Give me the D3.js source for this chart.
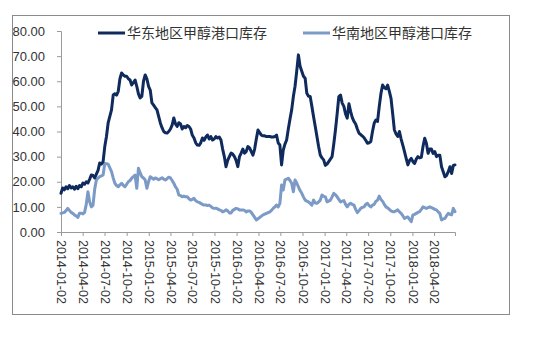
<!DOCTYPE html>
<html>
<head>
<meta charset="utf-8">
<script src="https://cdn.jsdelivr.net/npm/d3@7"></script>
<style>
html,body{margin:0;padding:0;background:#fff;}
svg{display:block;}
</style>
</head>
<body>
<svg id="chart" width="544" height="340"></svg>
<script>
// ---- data ----
const seriesNames = ["华东地区甲醇港口库存", "华南地区甲醇港口库存"];
const firstWeek = "2014-01-02"; // weekly observations starting here
const tickLabels = ["2014-01-02","2014-04-02","2014-07-02","2014-10-02","2015-01-02","2015-04-02","2015-07-02","2015-10-02","2016-01-02","2016-04-02","2016-07-02","2016-10-02","2017-01-02","2017-04-02","2017-07-02","2017-10-02","2018-01-02","2018-04-02"];
const yTicks = [0,10,20,30,40,50,60,70,80];
const eastValues = [15.4,17.5,16.8,18,17.2,18.5,17.5,18,17,18.2,17.2,18.5,18,19.5,19,20,19.5,21,22.7,22.5,
21.5,23,24.5,27.5,27,28,34,38,43.4,46,48.6,54.5,55,54.5,56,61,63.3,62.5,62,62,
61,60.5,58.5,59.5,60.5,58,55,53.4,54,60,62.5,61,58,56.5,51.4,50.5,49.5,48.6,46,43.4,
41.5,40,39.5,39.4,40,41,42.5,45.4,43,42,43.5,43,41,42,41.5,42.4,42,41,38.5,37.4,
35.5,34.6,34.5,35.5,37.4,36.5,37.8,38.6,37,38,36.6,37,38,37.4,37.8,36.6,33,30,26,28.5,
30,31.4,31,30,28.5,26,30,31.4,33,31.4,32,34,33.5,32,30.6,33,37,40.6,39.5,38.6,
38.3,38.3,38,38,38,37.8,37.8,38,38.6,35.4,34.6,26.7,32.6,35,36.6,41,45,48.6,53.9,58,
64,70.5,66,64,62,61.2,55.2,54,53.9,50,45.9,42,38,34,30.6,29.5,28.7,26.5,27,28,
29,30,35,40.6,47,53.9,54.5,51.3,50,47,45.3,51,48,45.5,44,43,41,39.3,38.8,38.2,
37.5,36.5,35.3,35.5,36,40,43.3,44.6,44,49.9,55,58.5,57.5,57,58.5,56,53.2,47,40.6,39,
38,40,37,34.6,32,29.3,26.7,28.5,29.3,28,27.3,29,30,29.5,29.7,34,37.3,35.3,31.3,33,
33,31.3,32,30,30.5,30.5,26,24,22,22.5,24,26,23.3,26.5,26.7];
const southValues = [7.4,7.6,7.8,8.5,9.4,8.6,7.8,7.4,6.8,6.4,5.8,7.5,7.5,7.2,7.8,11,16,12,10,10.6,
17,20.7,21.5,22,22.3,22.7,27.3,27.2,27,25.5,24,21.5,19.4,18.5,18,18.8,19.4,18.6,18,19,
20,20.5,21.4,22,22.7,17.4,25.4,23.5,22,21.5,20.7,17.4,20,22,21.5,21,21.5,21.2,20.8,21.2,
21.6,21,20.7,21.2,21.8,21.5,20.5,19.4,18,17,14.7,14.5,14,14.3,14,14,13.2,12.7,13,13.4,
12.5,12,11.8,11.4,11,10.7,10.8,10.5,10.7,10.2,9.6,9.4,9.5,9.2,8.8,8.6,8,8.3,8.8,8.4,
7.6,7.6,8.6,9,9.4,9.2,8.8,8.8,8.8,8.6,8,8.4,8.4,7.8,6.8,5.8,4.8,5.3,5.8,6.3,
6.8,7.1,7.4,7.7,8,8.6,9.4,10,10.7,10,11.4,18.7,16.7,20.7,21,21.4,20.5,19.4,16,20.7,
19.5,18,16.5,15.4,14,12.7,12.3,12,11.4,10.7,12.7,11.5,11.4,12,12.7,14.7,14.2,14,12,12.3,
12.7,14,15.4,14.8,14,13,12,12.3,12.5,11,10,11,11.4,11,10.7,9,7.7,8.5,9.4,9.8,
10,11,11.4,10.5,10,10.7,11,12.2,12.7,14.3,13,12.2,11,10,9.6,9,8.4,8.1,8.1,8.4,
8.8,8,7.4,6.5,5.4,5.8,6,5,4.1,6.8,7,7.4,7.8,8.1,9,10,9.7,9.4,9.7,10,
9.7,9.4,9,8.8,8,7.4,4.8,5.2,5.4,6.5,7.4,7,6.8,9.4,8.1];
const colors = ["#0f2a5c", "#7b9ac6"];

// ---- build ----
const parse = d3.utcParse("%Y-%m-%d");
const start = parse(firstWeek);
const dates = eastValues.map((_, i) => d3.utcDay.offset(start, 7 * i));

const svg = d3.select("#chart");
const plot = {left: 61, right: 455, top: 31, bottom: 232};

const x = d3.scaleUtc().domain([start, dates[dates.length - 1]]).range([plot.left, plot.right]);
const y = d3.scaleLinear().domain([0, 80]).range([plot.bottom, plot.top]);

// frame
svg.append("rect").attr("x", 12.5).attr("y", 15.5).attr("width", 497).attr("height", 299)
  .attr("fill", "none").attr("stroke", "#8a8a8a").attr("stroke-width", 1);

const fontNum = "'Liberation Sans', Arial, sans-serif";

// y axis
const yAxis = svg.append("g").attr("transform", `translate(${plot.left},0)`)
  .call(d3.axisLeft(y).tickValues(yTicks).tickFormat(d3.format(".2f")).tickSizeOuter(0).tickSize(4).tickPadding(12));
yAxis.select(".domain").attr("stroke", "#9a9a9a");
yAxis.selectAll(".tick line").attr("stroke", "#9a9a9a");
yAxis.selectAll("text").attr("fill", "#333").style("font-family", fontNum).style("font-size", "13px");

// x axis
const xAxis = svg.append("g").attr("transform", `translate(0,${plot.bottom})`)
  .call(d3.axisBottom(x).tickValues(tickLabels.map(parse)).tickFormat(d3.utcFormat("%Y-%m-%d")).tickSizeOuter(0).tickSize(4));
xAxis.select(".domain").attr("stroke", "#9a9a9a");
xAxis.selectAll(".tick line").attr("stroke", "#9a9a9a");
xAxis.selectAll("text")
  .attr("fill", "#333").style("font-family", fontNum).style("font-size", "12.5px")
  .attr("transform", "rotate(90)")
  .attr("text-anchor", "start")
  .attr("x", 8).attr("y", 0).attr("dy", "0.35em");

// lines
const line = d3.line().x((d, i) => x(dates[i])).y(d => y(d)).curve(d3.curveLinear);
[southValues, eastValues].forEach((vals, k) => {
  const ci = k === 0 ? 1 : 0;
  svg.append("path").datum(vals).attr("d", line)
    .attr("fill", "none").attr("stroke", colors[ci]).attr("stroke-width", 3)
    .attr("stroke-linejoin", "round").attr("stroke-linecap", "round");
});

// legend
const legendItems = [{x: 98, color: colors[0], name: seriesNames[0]}, {x: 303, color: colors[1], name: seriesNames[1]}];
const lg = svg.append("g");
legendItems.forEach(it => {
  lg.append("line").attr("x1", it.x).attr("x2", it.x + 27).attr("y1", 33).attr("y2", 33)
    .attr("stroke", it.color).attr("stroke-width", 3);
  lg.append("text").attr("x", it.x + 29).attr("y", 33).attr("dy", "0.35em")
    .attr("fill", "#333").style("font-family", "'Noto Sans CJK SC', sans-serif").style("font-size", "14px")
    .text(it.name);
});
</script>
</body>
</html>
